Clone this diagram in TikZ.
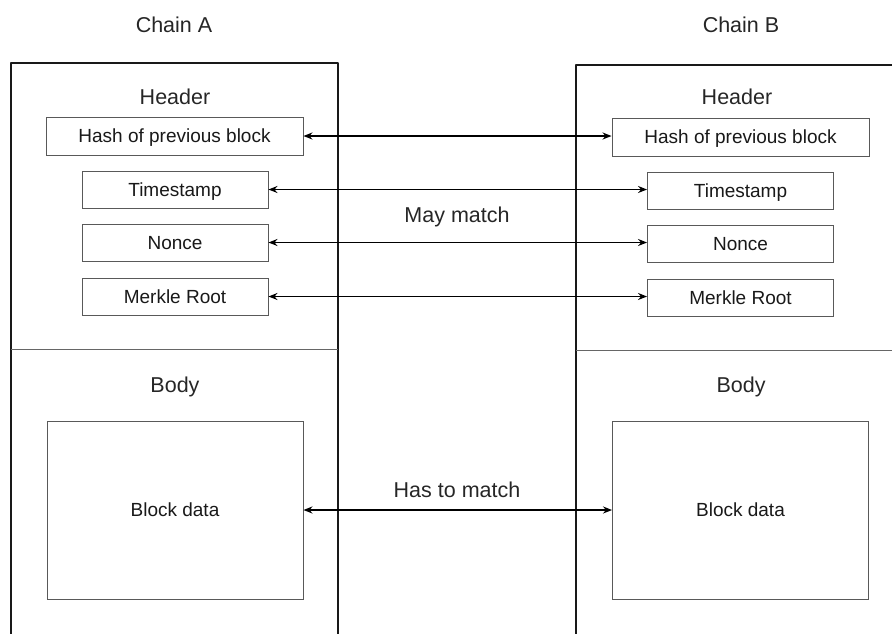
\documentclass[tikz,border=0pt]{standalone}
\usepackage{fontspec}
\setmainfont{Liberation Sans}
\usetikzlibrary{arrows.meta}
\begin{document}
\begin{tikzpicture}[x=1pt,y=-1pt,
  panel/.style={line width=2.8pt,line join=round,draw=black!90},
  divider/.style={line width=0.8pt,draw=black!60},
  field/.style={draw=black!65,line width=0.9pt,fill=white,inner sep=0pt,
    minimum width=186pt,minimum height=37pt,text=black!90,
    text height=13.7pt,text depth=0pt,
    font=\fontsize{19}{22}\selectfont},
  widefield/.style={field,minimum width=257pt,minimum height=38pt},
  datafield/.style={field,minimum width=256pt,minimum height=178pt},
  title/.style={font=\fontsize{21.5}{24}\selectfont,text=black!85},
  link/.style={line width=1.6pt,{Stealth[length=9pt,width=7pt]}-{Stealth[length=9pt,width=7pt]}}
]
\useasboundingbox (0,0) rectangle (892,633);
\begin{scope}
\clip (0,0) rectangle (892,633);
% chain outlines, open at the page edges
\draw[panel] (11,640) -- (11,63) -- (338,63) -- (338,640);
\draw[panel] (576,640) -- (576,65) -- (900,65);
% header/body split
\draw[divider] (11,349) -- (338,349);
\draw[divider] (576,350) -- (900,350);
\end{scope}

% chain titles and section labels
\node[title] (ca) at (174,25) {Chain A};
\node[title] (cb) at (741,25) {Chain B};
\node[title] (ha) at (175,97) {Header};
\node[title] (hb) at (737,97) {Header};
\node[title] (ba) at (175,387) {Body};
\node[title] (bb) at (741,387) {Body};

% header fields, chain A
\node[widefield] (hashA) at (174.5,136) {Hash of previous block};
\node[field] (timeA)  at (175,189.5) {Timestamp};
\node[field] (nonceA) at (175,242.5) {Nonce};
\node[field] (rootA)  at (175,296.5) {Merkle Root};
% header fields, chain B
\node[widefield] (hashB) at (740.5,137) {Hash of previous block};
\node[field] (timeB)  at (740.5,191) {Timestamp};
\node[field] (nonceB) at (740.5,243.5) {Nonce};
\node[field] (rootB)  at (740.5,297.5) {Merkle Root};
% body
\node[datafield] (dataA) at (175,510) {Block data};
\node[datafield] (dataB) at (740.5,510) {Block data};

% comparisons
\draw[link] (hashA.east)  -- (hashA.east -| hashB.west);
\draw[link] (timeA.east)  -- (timeA.east -| timeB.west);
\draw[link] (nonceA.east) -- (nonceA.east -| nonceB.west);
\draw[link] (rootA.east)  -- (rootA.east -| rootB.west);
\draw[link] (dataA.east)  -- (dataA.east -| dataB.west);

\node[title] (may) at (457,217) {May match};
\node[title] (has) at (457,490) {Has to match};
\end{tikzpicture}
\end{document}
